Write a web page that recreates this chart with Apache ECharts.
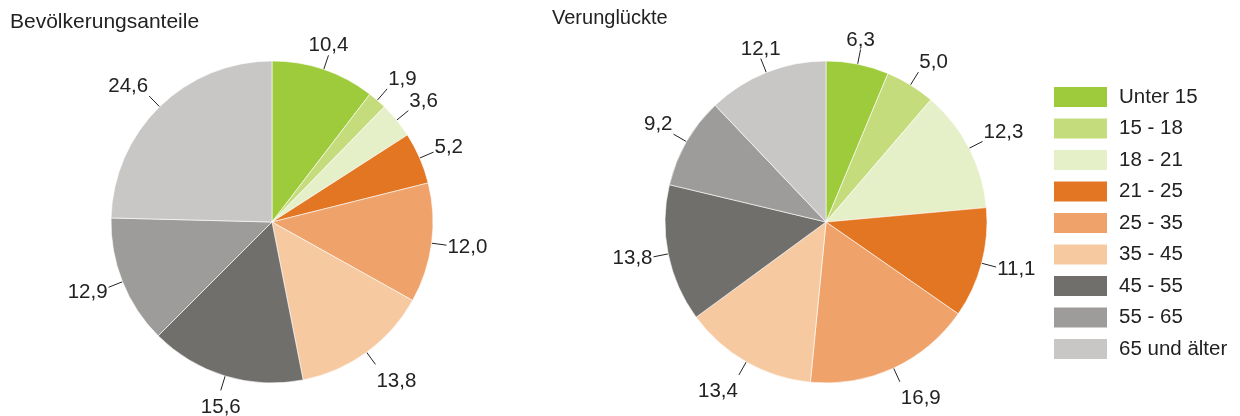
<!DOCTYPE html>
<html>
<head>
<meta charset="utf-8">
<script src="https://cdn.jsdelivr.net/npm/echarts@6/dist/echarts.min.js"></script>
<style>
  html, body { margin: 0; padding: 0; background: #fff; }
  #main { width: 1240px; height: 416px; }
</style>
</head>
<body>
<div id="main"></div>
<script>
var ageGroups = ['Unter 15', '15 - 18', '18 - 21', '21 - 25', '25 - 35', '35 - 45', '45 - 55', '55 - 65', '65 und älter'];
var population = [10.4, 1.9, 3.6, 5.2, 12.0, 13.8, 15.6, 12.9, 24.6];
var casualties = [6.3, 5.0, 12.3, 11.1, 16.9, 13.4, 13.8, 9.2, 12.1];
var colors = ['#9ecb3b', '#c5dc7c', '#e5efc8', '#e37623', '#f0a26b', '#f6c9a0', '#716f6c', '#9d9c9a', '#c8c7c6'];

var font = 'Liberation Sans, Arial, sans-serif';
var myChart = echarts.init(document.getElementById('main'));

function toData(values) {
  return values.map(function(v, i) {
    return { name: ageGroups[i], value: v };
  });
}

function ramp(v, a, b) {
  return Math.max(0, Math.min(1, (v - a) / (b - a)));
}

// label sits at the end of a short radial leader line:
// centred above/below when the line is steep, beside it when flat, at the corner in between
function placeLabel(p) {
  var pts = p.labelLinePoints;
  if (!pts) return {};
  var a = pts[0], b = pts[1];
  var dx = b[0] - a[0], dy = b[1] - a[1];
  var len = Math.sqrt(dx * dx + dy * dy) || 1;
  var ux = dx / len, uy = dy / len;
  var w = p.labelRect.width / 2, h = p.labelRect.height / 2;
  var sx = uy < 0 ? ramp(Math.abs(ux), 0.38, 0.5) : ramp(Math.abs(ux), 0.3, 0.41);
  var sy = ramp(Math.abs(uy), 0.36, 0.42);
  return {
    x: b[0] + (ux < 0 ? -1 : 1) * sx * (w + 1),
    y: b[1] + 2 + (uy < 0 ? -(h + 1) : (h + 4)) * sy,
    align: 'center',
    verticalAlign: 'middle',
    labelLinePoints: [a, b, b]
  };
}

function pieSeries(name, values, cx) {
  return {
    type: 'pie',
    name: name,
    center: [cx, 222],
    radius: [0, 161],
    startAngle: 90,
    clockwise: true,
    avoidLabelOverlap: false,
    itemStyle: { borderColor: '#fff', borderWidth: 0.6 },
    label: {
      color: '#222',
      fontSize: 20.5,
      fontFamily: font,
      formatter: function(p) {
        return p.value.toFixed(1).replace('.', ',');
      }
    },
    labelLine: {
      length: 15,
      length2: 0,
      lineStyle: { color: '#222', width: 1 }
    },
    labelLayout: placeLabel,
    emphasis: { disabled: true },
    data: toData(values)
  };
}

myChart.setOption({
  animation: false,
  color: colors,
  title: [
    { text: 'Bevölkerungsanteile', left: 5, top: 7,
      textStyle: { fontSize: 21, fontWeight: 'normal', color: '#222', fontFamily: font } },
    { text: 'Verunglückte', left: 547, top: 3,
      textStyle: { fontSize: 20, fontWeight: 'normal', color: '#222', fontFamily: font } }
  ],
  legend: {
    orient: 'vertical',
    left: 1047,
    top: 80,
    icon: 'rect',
    itemWidth: 55,
    itemHeight: 22,
    itemGap: 7.5,
    textStyle: { fontSize: 20.5, color: '#222', padding: [0, 0, 0, 6], fontFamily: font },
    data: ageGroups
  },
  series: [
    pieSeries('Bevölkerungsanteile', population, 272),
    pieSeries('Verunglückte', casualties, 826)
  ]
});
</script>
</body>
</html>
